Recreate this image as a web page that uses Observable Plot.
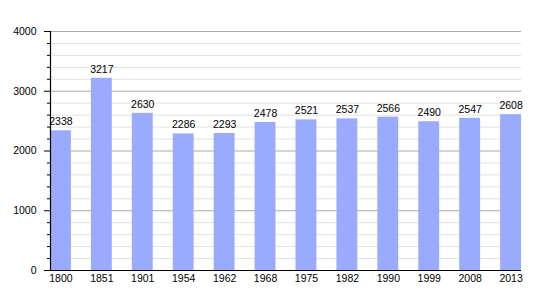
<!DOCTYPE html>
<html><head><meta charset="utf-8">
<script src="https://cdn.jsdelivr.net/npm/d3@7"></script>
<script src="https://cdn.jsdelivr.net/npm/@observablehq/plot@0.6"></script>
<style>body{margin:0;background:#fff}</style>
</head><body><div id="chart"></div>
<script>
const years = ["1800","1851","1901","1954","1962","1968","1975","1982","1990","1999","2008","2013"];
const population = [2338,3217,2630,2286,2293,2478,2521,2537,2566,2490,2547,2608];
const majorTicks = [0,1000,2000,3000,4000];
const minorTicks = d3.range(200,4000,200).filter(v => v % 1000 !== 0);

const data = years.map((y,i) => ({year:y, value:population[i]}));

const chart = Plot.plot({
  width: 550, height: 300,
  marginLeft: 50, marginRight: 29, marginTop: 31, marginBottom: 30,
  style: {fontFamily: "'Liberation Sans', Arial, sans-serif", fontSize: "10px", color: "#000", background: "#fff"},
  x: {type: "band", domain: years, paddingInner: 0.49, paddingOuter: 0, round: false, label: null},
  y: {domain: [0,4000], label: null},
  marks: [
    Plot.ruleY(minorTicks, {stroke: "#e2e2e2", strokeWidth: 1}),
    Plot.ruleY(majorTicks.slice(1), {stroke: "#aaaaaa", strokeWidth: 1}),
    Plot.barY(data, {x: "year", y: "value", fill: "#99aaff"}),
    Plot.text(data, {x: "year", y: "value", text: d => String(d.value), dy: -9, fill: "#000", fontSize: 10.5}),
    Plot.axisY(minorTicks, {tickSize: 3, text: null, stroke: "#000"}),
    Plot.axisY(majorTicks, {tickSize: 6, tickPadding: 8, tickFormat: "d", stroke: "#000", fill: "#000", fontSize: 10.5, label: null}),
    Plot.axisX({tickSize: 0, tickPadding: 4, fill: "#000", fontSize: 10.5, label: null}),
    Plot.ruleY([0], {stroke: "#000", strokeWidth: 1.2}),
    Plot.frame({anchor: "left", stroke: "#000", strokeWidth: 1.2})
  ]
});
document.getElementById("chart").appendChild(chart);
</script>
</body></html>
